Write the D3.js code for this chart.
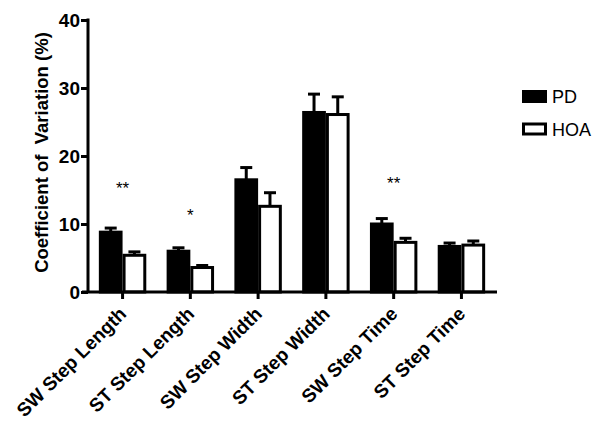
<!DOCTYPE html>
<html><head><meta charset="utf-8">
<script src="https://cdn.jsdelivr.net/npm/d3@7"></script>
<style>body{margin:0;background:#fff}svg{display:block}text{font-family:"Liberation Sans",Arial,sans-serif}</style>
</head><body><svg id="c" width="601" height="426"></svg>
<script>
const categories = ["SW Step Length","ST Step Length","SW Step Width","ST Step Width","SW Step Time","ST Step Time"];
const series = ["PD","HOA"];
const pdMean = [8.8, 6.0, 16.5, 26.4, 10.0, 6.7];
const pdErr  = [0.6, 0.5, 1.8, 2.7, 0.8, 0.5];
const hoaMean = [5.4, 3.6, 12.6, 26.1, 7.3, 6.9];
const hoaErr  = [0.5, 0.3, 2.0, 2.6, 0.6, 0.6];
const stars = ["**","*","","","**",""];
const starY = [14.4, 10.4, null, null, 15.1, null];
const yTicks = [0,10,20,30,40];

const svg = d3.select("#c");
const x0 = 88, x1 = 496, yTop = 20, yBot = 292;
const x = d3.scaleBand().domain(categories).range([x0, x1]).paddingInner(0.3).paddingOuter(0.16);
const xs = d3.scaleBand().domain(series).range([0, x.bandwidth()]);
const y = d3.scaleLinear().domain([0,40]).range([yBot, yTop]);
const color = {PD:"#000", HOA:"#fff"};

const data = [];
categories.forEach((c,i)=>{
  data.push({c, s:"PD", v:pdMean[i], e:pdErr[i]});
  data.push({c, s:"HOA", v:hoaMean[i], e:hoaErr[i]});
});

const g = svg.append("g");
data.forEach(d=>{
  const cx = x(d.c) + xs(d.s) + xs.bandwidth()/2;
  g.append("line").attr("x1",cx).attr("x2",cx).attr("y1",y(d.v)).attr("y2",y(d.v+d.e))
    .attr("stroke","#000").attr("stroke-width",3);
  g.append("line").attr("x1",cx-6).attr("x2",cx+6).attr("y1",y(d.v+d.e)).attr("y2",y(d.v+d.e))
    .attr("stroke","#000").attr("stroke-width",3);
});
g.selectAll("rect.bar").data(data).join("rect").attr("class","bar")
  .attr("x",d=>x(d.c)+xs(d.s)+1.5).attr("width",xs.bandwidth()-3)
  .attr("y",d=>y(d.v)).attr("height",d=>y(0)-y(d.v))
  .attr("fill",d=>color[d.s]).attr("stroke","#000").attr("stroke-width",3);

categories.forEach((c,i)=>{
  if(stars[i]) svg.append("text").attr("x",x(c)+x.bandwidth()/2).attr("y",y(starY[i]))
    .attr("text-anchor","middle").attr("font-size",17).text(stars[i]);
});

const yAxis = svg.append("g").attr("transform",`translate(${x0},0)`)
  .call(d3.axisLeft(y).tickValues(yTicks).tickSize(7).tickPadding(1));
yAxis.select(".domain").attr("stroke-width",3).attr("d",`M0,${yBot}V${yTop-1.5}`);
yAxis.selectAll(".tick line").attr("stroke-width",3);
yAxis.selectAll(".tick text").attr("font-size",19).attr("font-weight","bold").attr("fill","#000")
  .attr("font-family","'Liberation Sans',Arial,sans-serif");

const xAxis = svg.append("g").attr("transform",`translate(0,${yBot})`)
  .call(d3.axisBottom(x).tickSize(7).tickSizeOuter(0));
xAxis.select(".domain").attr("stroke-width",3).attr("d",`M${x0-6},0H${x1+1}`);
xAxis.selectAll(".tick line").attr("stroke-width",3);
xAxis.selectAll(".tick text").attr("font-size",19).attr("font-weight","bold").attr("fill","#000")
  .attr("font-family","'Liberation Sans',Arial,sans-serif")
  .attr("text-anchor","end").attr("x",0).attr("y",0).attr("dy",null)
  .attr("transform","translate(5,23) rotate(-45)");

const title = svg.append("text").attr("transform",`translate(41,152.5) rotate(-90)`)
  .attr("text-anchor","middle").attr("dy","0.35em").attr("font-size",18.5).attr("font-weight","bold")
  .attr("xml:space","preserve").style("white-space","pre").text("Coefficient of  Variation (%)");
const tl = title.node().getComputedTextLength();
if (tl > 0) title.attr("font-size", 18.5 * 241 / tl);

series.forEach((s,i)=>{
  const ly = 91.5 + i*32.5;
  svg.append("rect").attr("x",523.5).attr("y",ly).attr("width",22).attr("height",10)
    .attr("fill",color[s]).attr("stroke","#000").attr("stroke-width",3);
  svg.append("text").attr("x",552).attr("y",ly+11.5).attr("font-size",18).text(s);
});
</script></body></html>
